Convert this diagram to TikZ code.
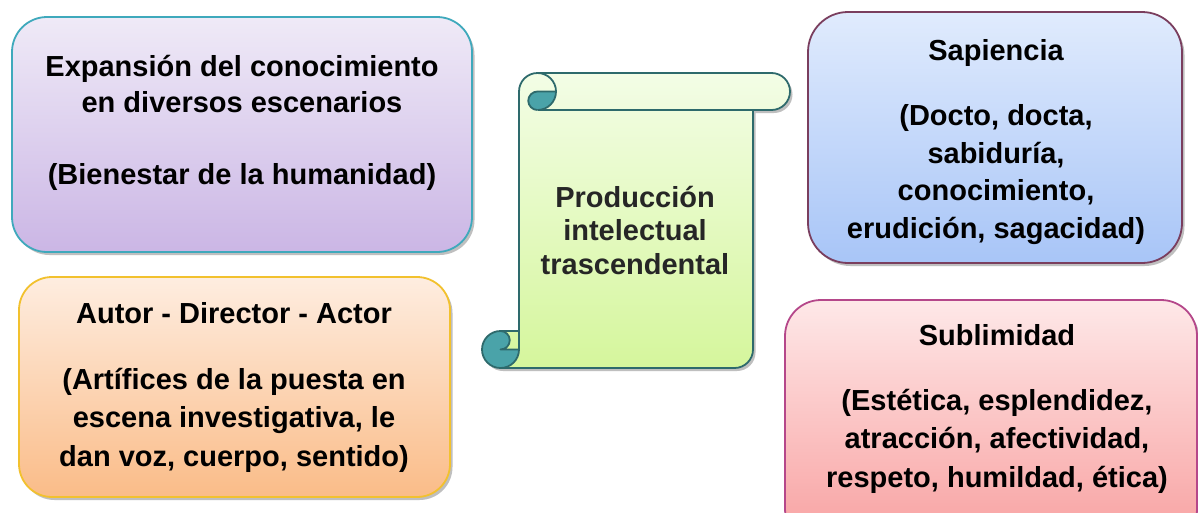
\documentclass[tikz,border=0pt]{standalone}
\usepackage{fontspec}
\setmainfont{Liberation Sans}
\usetikzlibrary{shadows}
\definecolor{aline}{HTML}{3FA9BC}\definecolor{atop}{HTML}{EFEAF7}\definecolor{abot}{HTML}{CBB6E5}
\definecolor{bline}{HTML}{F2C12E}\definecolor{btop}{HTML}{FEEDE0}\definecolor{bbot}{HTML}{FABC88}
\definecolor{cline}{HTML}{7A3E5E}\definecolor{ctop}{HTML}{E0EBFD}\definecolor{cbot}{HTML}{A8C5F7}
\definecolor{dline}{HTML}{B5478A}\definecolor{dtop}{HTML}{FEE8E8}\definecolor{dbot}{HTML}{F8A0A0}
\definecolor{sline}{HTML}{2E6A6C}\definecolor{scurl}{HTML}{4AA3A9}\definecolor{stop}{HTML}{F3FDE6}\definecolor{sbot}{HTML}{D5F69C}
\definecolor{stext}{HTML}{262626}
\begin{document}
\begin{tikzpicture}[x=1pt,y=-1pt,
  card/.style={rectangle, rounded corners=#1, line width=1.8pt, inner sep=0pt,
    drop shadow={shadow xshift=2.5pt,shadow yshift=-3pt,fill=black!45,opacity=.55}},
  cardtext/.style={anchor=base, align=center, inner sep=0pt, font=\bfseries\fontsize{29}{#1}\selectfont},
  scrollline/.style={draw=sline, line width=1.8pt, line join=round}
]
\useasboundingbox (0,0) rectangle (1198,512);
\fill[white] (0,0) rectangle (1198,512);

% boxes
\node[card=35pt, draw=aline, top color=atop, bottom color=abot, minimum width=460pt, minimum height=235pt] (expansion) at (242,134.5) {};
\node[card=33pt, draw=bline, top color=btop, bottom color=bbot, minimum width=431pt, minimum height=220pt] (autor) at (234.5,387) {};
\node[card=40pt, draw=cline, top color=ctop, bottom color=cbot, minimum width=374pt, minimum height=251pt] (sapiencia) at (995,137.5) {};
\node[card=36pt, draw=dline, top color=dtop, bottom color=dbot, minimum width=412pt, minimum height=245pt] (sublimidad) at (991,422.5) {};

% scroll shadow
\fill[black!45, opacity=.55, xshift=2.5pt, yshift=-3pt]
  (519,331) -- (519,91.5) arc[start angle=180,end angle=270,radius=18.5] -- (771.5,73)
  arc[start angle=270,end angle=450,radius=18.5] -- (753,110) -- (753,349.5)
  arc[start angle=0,end angle=90,radius=18.5] -- (500.5,368)
  arc[start angle=90,end angle=270,radius=18.5] -- cycle;
% scroll body
\path[top color=stop, bottom color=sbot]
  (519,331) -- (519,91.5) arc[start angle=180,end angle=270,radius=18.5] -- (771.5,73)
  arc[start angle=270,end angle=450,radius=18.5] -- (753,110) -- (753,349.5)
  arc[start angle=0,end angle=90,radius=18.5] -- (500.5,368)
  arc[start angle=90,end angle=270,radius=18.5] -- cycle;
% curls
\fill[scurl] (556,91.5) arc[start angle=0,end angle=90,radius=18.5]
  arc[start angle=90,end angle=270,radius=9.25] -- cycle;
\fill[scurl] (519,349.5) arc[start angle=0,end angle=270,radius=18.5]
  arc[start angle=270,end angle=450,radius=9.25] -- cycle;
% outlines
\draw[scrollline]
  (519,331) -- (519,91.5) arc[start angle=180,end angle=270,radius=18.5] -- (771.5,73)
  arc[start angle=270,end angle=450,radius=18.5] -- (753,110) -- (753,349.5)
  arc[start angle=0,end angle=90,radius=18.5] -- (500.5,368)
  arc[start angle=90,end angle=270,radius=18.5] -- cycle;
\draw[scrollline] (537.5,110) -- (753,110);
\draw[scrollline] (537.5,73) arc[start angle=270,end angle=450,radius=18.5];
\draw[scrollline] (556,91.5) -- (537.5,91.5) arc[start angle=270,end angle=90,radius=9.25];
\draw[scrollline] (519,331) -- (519,349.5) arc[start angle=0,end angle=90,radius=18.5];
\draw[scrollline] (500.5,331) arc[start angle=270,end angle=450,radius=9.25] -- (519,349.5);

% texts (anchor=base is the baseline of the last line)
\node[cardtext=36] (expansiontext) at (242,184) {Expansión del conocimiento\\ en diversos escenarios\\[36pt] (Bienestar de la humanidad)};
\node[cardtext=38.5] (autortext) at (234,466) {Autor - Director - Actor\\[27pt] (Artífices de la puesta en\\ escena investigativa, le\\ dan voz, cuerpo, sentido)};
\node[cardtext=37.5] (sapienciatext) at (996,238) {Sapiencia\\[28pt] (Docto, docta,\\ sabiduría,\\ conocimiento,\\ erudición, sagacidad)};
\node[cardtext=38.5] (sublimidadtext) at (997,487) {Sublimidad\\[26.5pt] (Estética, esplendidez,\\ atracción, afectividad,\\ respeto, humildad, ética)};
\node[cardtext=33.5, text=stext] (scrolltext) at (635,274) {Producción\\ intelectual\\ trascendental};
\end{tikzpicture}
\end{document}
